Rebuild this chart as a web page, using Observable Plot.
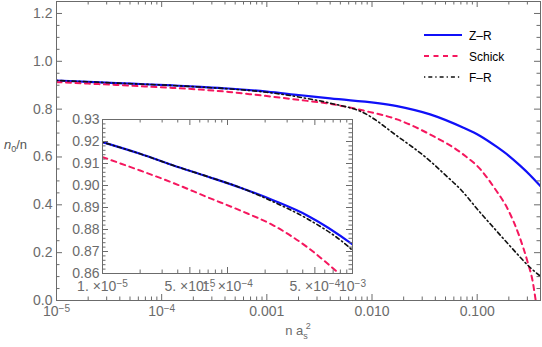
<!DOCTYPE html>
<html>
<head>
<meta charset="utf-8">
<script src="https://cdn.jsdelivr.net/npm/d3@7"></script>
<script src="https://cdn.jsdelivr.net/npm/@observablehq/plot@0.6"></script>
<style>
  body { margin: 0; background: #fff; }
  #chart { position: relative; width: 542px; height: 347px; }
  #chart svg { position: absolute; overflow: visible; }
</style>
</head>
<body>
<div id="chart"></div>
<script>
// Condensate fraction n0/n against the gas parameter n a_s^2 for three models.
const zrX = [1e-5, 2e-5, 3.7e-5, 6.9e-5, 1.27e-4, 2.34e-4, 4.34e-4, 1e-3, 2e-3, 4e-3, 0.0173, 0.0357, 0.0741, 0.1068, 0.154, 0.2, 0.256, 0.319, 0.398];
const zrY = [0.9197, 0.9144, 0.9091, 0.9041, 0.899, 0.8932, 0.8864, 0.8732, 0.859, 0.845, 0.8125, 0.778, 0.722, 0.688, 0.642, 0.605, 0.564, 0.524, 0.479];

const schickX = [1e-5, 2e-5, 3.7e-5, 6.9e-5, 1.27e-4, 2.34e-4, 4.34e-4, 7.8e-4, 2e-3, 4e-3, 8.3e-3, 0.0173, 0.0357, 0.0741, 0.107, 0.145, 0.199, 0.251, 0.302, 0.337, 0.36];
const schickY = [0.9129, 0.9068, 0.9011, 0.8947, 0.8886, 0.8818, 0.872, 0.86, 0.839, 0.822, 0.794, 0.757, 0.694, 0.61, 0.549, 0.472, 0.375, 0.27, 0.16, 0.08, 0];

const frX = [1e-5, 2e-5, 3.7e-5, 6.9e-5, 1.27e-4, 2.34e-4, 4.34e-4, 1e-3, 2e-3, 4e-3, 8.3e-3, 0.0173, 0.0357, 0.0478, 0.0721, 0.1016, 0.145, 0.206, 0.319, 0.398];
const frY = [0.9197, 0.9144, 0.9091, 0.9041, 0.899, 0.8925, 0.8849, 0.8705, 0.851, 0.825, 0.785, 0.688, 0.583, 0.532, 0.457, 0.379, 0.302, 0.227, 0.138, 0.102];

const seriesNames = ["Z–R", "Schick", "F–R"];

// Tick values and labels
const mainXTicks = [1e-5, 1e-4, 1e-3, 1e-2, 1e-1];
const mainXTickLabels = ["10^−5", "10^−4", "0.001", "0.010", "0.100"];
const mainYTicks = [0, 0.2, 0.4, 0.6, 0.8, 1.0, 1.2];
const insetXTicks = [1e-5, 5e-5, 1e-4, 5e-4, 1e-3];
const insetXTickLabels = ["1. ×10^−5", "5. ×10^−5", "1. ×10^−4", "5. ×10^−4", "10^−3"];
const insetYTicks = [0.86, 0.87, 0.88, 0.89, 0.90, 0.91, 0.92, 0.93];

const zr = zrX.map((x, i) => ({x, y: zrY[i]}));
const schick = schickX.map((x, i) => ({x, y: schickY[i]}));
const fr = frX.map((x, i) => ({x, y: frY[i]}));

const blue = "#1010f8", red = "#f5175e", black = "#111";
const axisColor = "#6b6b6b";
const font = "'Liberation Sans', Arial, sans-serif";

const styles = [
  {stroke: blue, strokeWidth: 2.2},
  {stroke: red, strokeWidth: 2, strokeDasharray: "5,4.5"},
  {stroke: black, strokeWidth: 1.6, strokeDasharray: "1.3,3,4,3"}
];

function logMinor(decades, mults, max) {
  const out = [];
  for (const d of decades) for (const m of mults) {
    const v = +(m * Math.pow(10, d)).toPrecision(6);
    if (v <= max) out.push(v);
  }
  return out;
}
function linMinor(lo, hi, step, majors) {
  const out = [];
  for (let v = lo; v <= hi + 1e-9; v += step) {
    const r = +v.toFixed(4);
    if (!majors.some(m => Math.abs(m - r) < 1e-9)) out.push(r);
  }
  return out;
}

// Inward frame ticks on all four sides
function frameTicks({xMajor, xMinor, yMajor, yMinor, plotW, plotH, major = 6, minor = 3.5}) {
  const s = {stroke: axisColor, strokeWidth: 1};
  return [
    Plot.tickX(xMajor, {x: d => d, insetTop: plotH - major, ...s}),
    Plot.tickX(xMinor, {x: d => d, insetTop: plotH - minor, ...s}),
    Plot.tickX(xMajor, {x: d => d, insetBottom: plotH - major, ...s}),
    Plot.tickX(xMinor, {x: d => d, insetBottom: plotH - minor, ...s}),
    Plot.tickY(yMajor, {y: d => d, insetRight: plotW - major, ...s}),
    Plot.tickY(yMinor, {y: d => d, insetRight: plotW - minor, ...s}),
    Plot.tickY(yMajor, {y: d => d, insetLeft: plotW - major, ...s}),
    Plot.tickY(yMinor, {y: d => d, insetLeft: plotW - minor, ...s})
  ];
}

function curves() {
  return [zr, schick, fr].map((data, i) =>
    Plot.line(data, {x: "x", y: "y", curve: "monotone-x", clip: true, ...styles[i]}));
}

// Tick labels along the bottom edge of a log-x frame
function bottomLabels(ticks, labels, pad) {
  return Plot.text(ticks, {
    x: d => d, text: (d, i) => labels[i],
    frameAnchor: "bottom", lineAnchor: "top", dy: pad, fill: axisColor
  });
}

// Render "base^exp" tick labels with a raised exponent
function raiseExponents(svg) {
  d3.select(svg).selectAll("text").each(function () {
    const t = this.textContent;
    if (!t.includes("^")) return;
    const [base, exp] = t.split("^");
    const sel = d3.select(this);
    sel.text(null);
    sel.append("tspan").text(base);
    sel.append("tspan").attr("dy", "-0.45em").attr("font-size", "0.72em").text(exp);
  });
}

const chart = document.getElementById("chart");

// Main panel
const M = {left: 56, right: 2, top: 1, bottom: 47};
const W = 542, H = 347;
const mainW = W - M.left - M.right, mainH = H - M.top - M.bottom;

const main = Plot.plot({
  width: W, height: H,
  marginLeft: M.left, marginRight: M.right, marginTop: M.top, marginBottom: M.bottom,
  style: {fontFamily: font, fontSize: "14px", color: axisColor, background: "transparent"},
  x: {type: "log", domain: [1e-5, 0.4], axis: null},
  y: {domain: [0, 1.25]},
  marks: [
    ...curves(),
    Plot.frame({stroke: axisColor}),
    ...frameTicks({
      xMajor: mainXTicks,
      xMinor: logMinor([-5, -4, -3, -2, -1], [2, 3, 4, 5, 6, 7, 8, 9], 0.4),
      yMajor: mainYTicks,
      yMinor: linMinor(0, 1.25, 0.05, mainYTicks),
      plotW: mainW, plotH: mainH
    }),
    bottomLabels(mainXTicks, mainXTickLabels, 6),
    Plot.axisY(mainYTicks, {tickSize: 0, tickPadding: 4, tickFormat: d3.format(".1f"), label: null})
  ]
});
main.style.left = "0px";
main.style.top = "0px";
chart.appendChild(main);
raiseExponents(main);

const ms = d3.select(main);
// Axis titles
const xt = ms.append("text")
  .attr("x", M.left + mainW / 2).attr("y", 335)
  .attr("text-anchor", "middle").attr("fill", axisColor)
  .attr("font-family", font).attr("font-size", 13);
xt.append("tspan").text("n a");
xt.append("tspan").attr("dy", 4).attr("font-size", 9).text("s");
xt.append("tspan").attr("dx", -2).attr("dy", -10.5).attr("font-size", 9).text("2");

const yt = ms.append("text")
  .attr("x", 4).attr("y", 149).attr("text-anchor", "start")
  .attr("fill", "#555").attr("font-family", font).attr("font-size", 13);
yt.append("tspan").attr("font-style", "italic").text("n");
yt.append("tspan").attr("dy", 3).attr("font-size", 9).text("0");
yt.append("tspan").attr("dy", -3).text("/n");

// Legend
const legend = ms.append("g").attr("font-family", font).attr("font-size", 12).attr("text-anchor", "start");
seriesNames.forEach((name, i) => {
  const y = 35 + i * 21;
  const st = styles[i];
  legend.append("line")
    .attr("x1", 424).attr("x2", 462).attr("y1", y).attr("y2", y)
    .attr("stroke", st.stroke).attr("stroke-width", st.strokeWidth)
    .attr("stroke-dasharray", st.strokeDasharray || null);
  legend.append("text").attr("x", 469).attr("y", y + 4.5).attr("fill", "#000").text(name);
});

// Inset panel, zoomed on the dilute region
const I = {left: 40, right: 22, top: 8, bottom: 32};
const insetW = 250, insetH = 154;

const inset = Plot.plot({
  width: I.left + insetW + I.right, height: I.top + insetH + I.bottom,
  marginLeft: I.left, marginRight: I.right, marginTop: I.top, marginBottom: I.bottom,
  style: {fontFamily: font, fontSize: "14px", color: axisColor, background: "transparent"},
  x: {type: "log", domain: [1e-5, 1e-3], axis: null},
  y: {domain: [0.86, 0.93]},
  marks: [
    Plot.frame({fill: "white"}),
    ...curves(),
    Plot.frame({stroke: axisColor}),
    ...frameTicks({
      xMajor: insetXTicks,
      xMinor: logMinor([-5, -4], [2, 3, 4, 6, 7, 8, 9], 1e-3),
      yMajor: insetYTicks,
      yMinor: linMinor(0.86, 0.93, 0.002, insetYTicks),
      plotW: insetW, plotH: insetH
    }),
    bottomLabels(insetXTicks, insetXTickLabels, 8),
    Plot.axisY(insetYTicks, {tickSize: 0, tickPadding: 3, tickFormat: d3.format(".2f"), label: null})
  ]
});
inset.style.left = (102 - I.left) + "px";
inset.style.top = (119 - I.top) + "px";
chart.appendChild(inset);
raiseExponents(inset);
</script>
</body>
</html>
